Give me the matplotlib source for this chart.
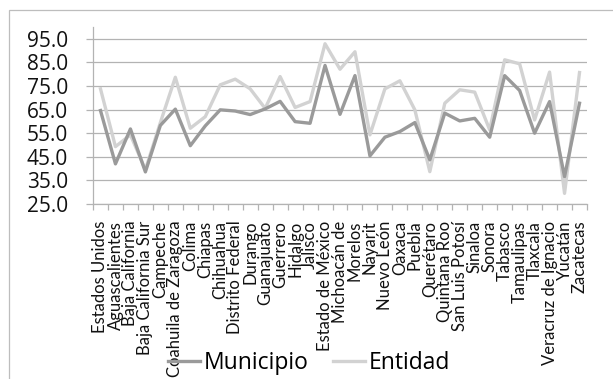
import matplotlib
matplotlib.use("Agg")
import matplotlib.pyplot as plt
from matplotlib.patches import Rectangle
from matplotlib.lines import Line2D

categories = [
    "Estados Unidos", "Aguascalientes", "Baja California", "Baja California Sur",
    "Campeche", "Coahuila de Zaragoza", "Colima", "Chiapas", "Chihuahua",
    "Distrito Federal", "Durango", "Guanajuato", "Guerrero", "Hidalgo", "Jalisco",
    "Estado de México", "Michoacán de", "Morelos", "Nayarit", "Nuevo León",
    "Oaxaca", "Puebla", "Querétaro", "Quintana Roo", "San Luis Potosí", "Sinaloa",
    "Sonora", "Tabasco", "Tamaulipas", "Tlaxcala", "Veracruz de Ignacio",
    "Yucatán", "Zacatecas",
]

municipio = [
    64.6, 42.0, 56.8, 38.6, 58.3, 65.2, 49.7, 58.1, 64.9, 64.4, 62.9,
    65.3, 68.5, 59.9, 59.2, 83.7, 63.0, 79.4, 45.4, 53.3, 55.7, 59.5,
    43.7, 63.5, 60.2, 61.3, 53.3, 79.4, 73.1, 55.0, 68.4, 36.6, 67.7,
]

entidad = [
    73.8, 49.3, 54.3, 39.5, 59.5, 78.7, 57.1, 62.0, 75.5, 77.9, 73.8,
    65.5, 79.0, 65.9, 68.4, 92.9, 82.1, 89.5, 54.3, 73.8, 77.2, 64.9,
    38.7, 67.7, 73.4, 72.4, 56.4, 86.1, 84.4, 60.6, 80.9, 29.5, 80.7,
]

y_ticks = [25, 35, 45, 55, 65, 75, 85, 95]

plt.rcParams["font.family"] = ["Open Sans", "DejaVu Sans"]

W, H = 613, 379
fig = plt.figure(figsize=(W / 100, H / 100), dpi=100)
ax = fig.add_axes([93 / W, 1 - 204 / H, (587 - 93) / W, (204 - 27) / H])

x = list(range(len(categories)))
ax.plot(x, municipio, color="#9a9a9a", lw=2.4, solid_joinstyle="round", zorder=3)
ax.plot(x, entidad, color="#d2d2d2", lw=2.4, solid_joinstyle="round", zorder=2)

ax.set_xlim(-0.5, len(categories) - 0.5)
ax.set_ylim(25, 100)
ax.set_yticks(y_ticks)
ax.set_yticklabels([f"{v:.1f}" for v in y_ticks], fontsize=15, color="#111111")
ax.yaxis.grid(True, color="#b3b3b3", lw=0.9)
ax.set_axisbelow(True)

ax.set_xticks(x)
ax.set_xticklabels(categories, rotation=90, fontsize=12, color="#111111",
                   family=["Lato", "DejaVu Sans"])
ax.set_xticks([i - 0.5 for i in range(len(categories) + 1)], minor=True)
ax.tick_params(axis="x", which="major", length=0, pad=12)
ax.tick_params(axis="x", which="minor", length=4, color="#b3b3b3", width=0.9)
ax.tick_params(axis="y", length=5, color="#b3b3b3", width=0.9, pad=13)

for side in ("top", "right"):
    ax.spines[side].set_visible(False)
for side in ("left", "bottom"):
    ax.spines[side].set_color("#b3b3b3")
    ax.spines[side].set_linewidth(0.9)

handles = [
    Line2D([], [], color="#9a9a9a", lw=2.4),
    Line2D([], [], color="#d2d2d2", lw=2.4),
]
fig.legend(handles, ["Municipio", "Entidad"], loc="center",
           bbox_to_anchor=(309 / W, 1 - 363 / H), ncol=2, frameon=False,
           fontsize=16.5, handlelength=1.4, handletextpad=0.15,
           columnspacing=1.1, borderpad=0)

fig.patches.append(Rectangle((9 / W, -0.1), 1.2, 1 - 10 / H + 0.1,
                             transform=fig.transFigure, fill=False,
                             edgecolor="#bdbdbd", lw=0.9))

fig.savefig("out.png", dpi=100)
